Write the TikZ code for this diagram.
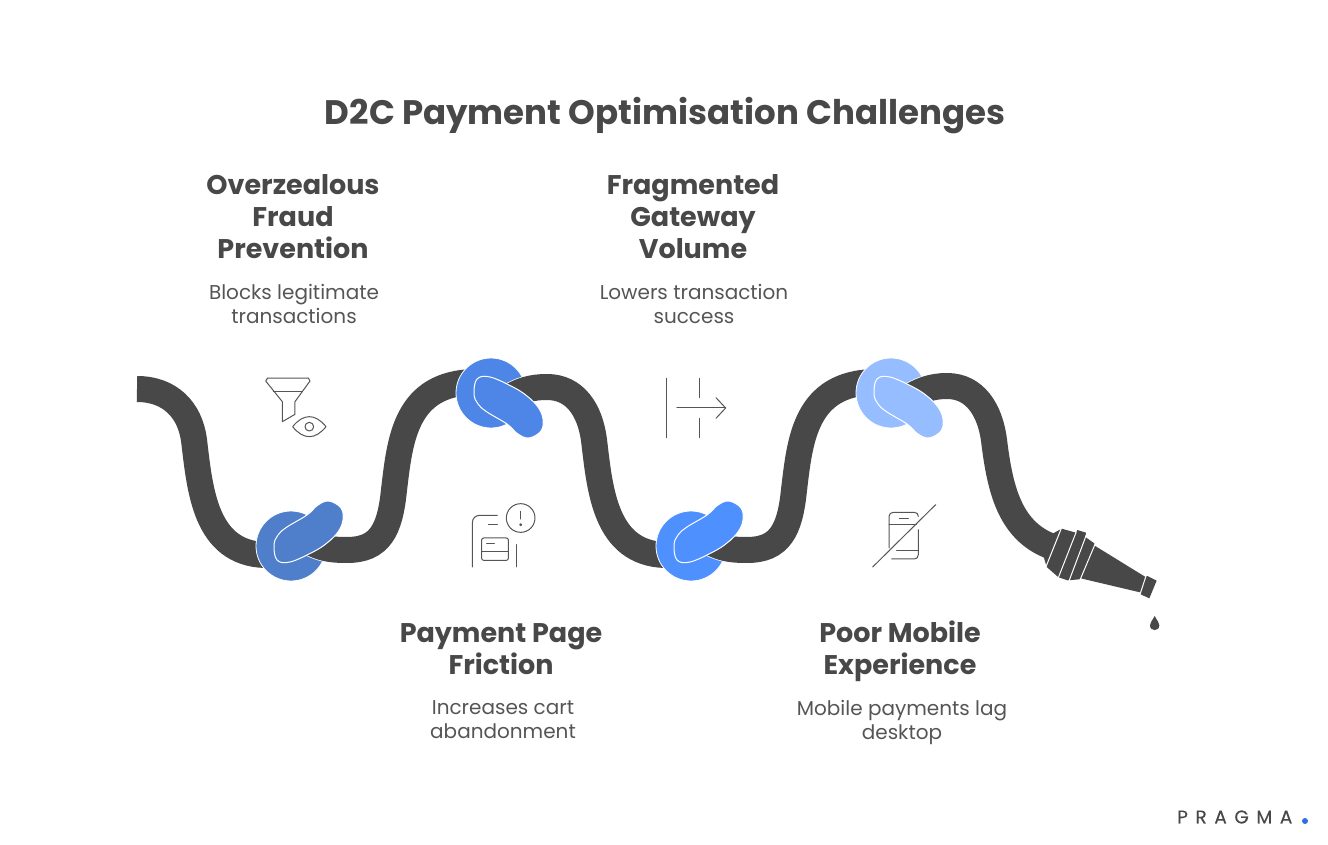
\documentclass[tikz,border=0pt]{standalone}
\usepackage{fontspec}
\setmainfont{Poppins}
\newfontfamily\logofont[LetterSpace=41, FakeBold=0.3]{Poppins}
\definecolor{tubegray}{HTML}{484848}
\definecolor{inkgray}{HTML}{484848}
\definecolor{bodygray}{HTML}{555555}
\definecolor{knotone}{HTML}{4F7FCB}
\definecolor{knottwo}{HTML}{4D86E6}
\definecolor{knotthree}{HTML}{4D90FE}
\definecolor{knotfour}{HTML}{96BDFF}
\definecolor{logoblue}{HTML}{2F6FE0}
% one knot: circle and blob, relative to the centre
\newcommand{\knotdisc}[2]{\fill[#2, draw=white, line width=.8pt] (#1) circle (35);}
\newcommand{\knotblob}[3]{
  \begin{scope}[shift={(#1)}, yscale=#3]
    \draw[#2, fill=#2, draw=white, line width=1pt] plot[smooth cycle, tension=.62] coordinates {
      (-17,-1) (-13,-11) (-4,-19) (16,-31) (27,-41) (38,-45) (50,-38) (52,-26) (47,-14) (36,-3) (22,6) (-1,16) (-14,14)};
  \end{scope}
}
\begin{document}
\begin{tikzpicture}[x=1pt, y=-1pt,
      tube/.style={draw=tubegray, line width=26pt},
      casing/.style={draw=white, line width=27.5pt},
      nozzle/.style={fill=tubegray},
      nozzlegap/.style={draw=white, line width=1pt},
      iconline/.style={draw=bodygray, line width=1pt, line cap=round, line join=round},
      zoomed/.style={x=.3333pt, y=-.3333pt},
      title/.style={font=\fontsize{34}{40}\selectfont\bfseries, text=inkgray},
      heading/.style={font=\fontsize{27}{32}\selectfont\bfseries, text=inkgray, align=center},
      body/.style={font=\fontsize{20}{24}\selectfont, text=bodygray, align=center}
    ]
      \useasboundingbox (0,0) rectangle (1328,845);

      % Title
      \node[title] (chart_title) at (665,116) {D2C Payment Optimisation Challenges};

      % Upper texts
      \node[heading] (fraud_head) at (293,217) {Overzealous\\Fraud\\Prevention};
      \node[body] (fraud_body) at (294,304) {Blocks legitimate\\transactions};
      \node[heading] (gateway_head) at (693,217) {Fragmented\\Gateway\\Volume};
      \node[body] (gateway_body) at (694,304) {Lowers transaction\\success};

      % Lower texts
      \node[heading] (page_head) at (501,649) {Payment Page\\Friction};
      \node[body] (page_body) at (503,720) {Increases cart\\abandonment};
      \node[heading] (mobile_head) at (900,651) {Poor Mobile\\Experience};
      \node[body] (mobile_body) at (902,722) {Mobile payments lag\\desktop};

      % Hose and discs, in turn, so each end leaves over its own disc
      \draw[tube] (137,389) .. controls (170,389) and (190,410) .. (194,440)
        .. controls (200,490) and (205,553) .. (265,555);
      \knotdisc{291,546}{knotone}
      \draw[casing] (305,539) .. controls (320,549) and (332,550) .. (347,550);
      \draw[tube] (305,539) .. controls (320,549) and (332,550) .. (347,550)
        .. controls (380,550) and (390,530) .. (394,490)
        .. controls (400,440) and (405,383) .. (475,382);
      \knotdisc{491,393}{knottwo}
      \draw[casing] (505,400) .. controls (520,390) and (532,387) .. (547,387);
      \draw[tube] (505,400) .. controls (520,390) and (532,387) .. (547,387)
        .. controls (575,387) and (590,410) .. (594,440)
        .. controls (600,490) and (605,553) .. (665,555);
      \knotdisc{691,546}{knotthree}
      \draw[casing] (705,539) .. controls (720,549) and (732,550) .. (747,550);
      \draw[tube] (705,539) .. controls (720,549) and (732,550) .. (747,550)
        .. controls (780,550) and (790,530) .. (794,490)
        .. controls (800,440) and (805,383) .. (875,382);
      \knotdisc{891,393}{knotfour}
      \draw[casing] (905,400) .. controls (920,390) and (932,386) .. (947,386);
      \draw[tube] (905,400) .. controls (920,390) and (932,386) .. (947,386)
        .. controls (975,386) and (990,410) .. (994,440)
        .. controls (1000,490) and (1010,530) .. (1050,546);

      % Blobs
      \knotblob{291,546}{knotone}{1}
      \knotblob{491,393}{knottwo}{-1}
      \knotblob{691,546}{knotthree}{1}
      \knotblob{891,393}{knotfour}{-1}

      % Nozzle
      \begin{scope}[shift={(1030,515)}, zoomed]
        \fill[nozzle] (66,57) -- (95,41) -- (138,53) -- (142,45) -- (168,53) -- (166,66)
          -- (193,85) -- (194,92) -- (345,185) -- (352,183) -- (380,197) -- (358,250)
          -- (332,238) -- (330,232) -- (152,190) -- (148,193) -- (113,196) -- (86,187)
          -- (82,184) -- (50,156) -- (40,122) -- cycle;
        \draw[nozzlegap] (94,40) -- (48,155);
        \draw[nozzlegap] (139,50) -- (85,188);
        \draw[nozzlegap] (169,60) -- (117,198);
        \draw[nozzlegap] (195,88) -- (150,195);
        \draw[nozzlegap] (349,180) -- (330,238);
        \fill[nozzle] (374,303) .. controls (366,318) and (360,323) .. (360,331)
          .. controls (360,350) and (388,350) .. (388,331)
          .. controls (388,323) and (382,318) .. (374,303) -- cycle;
      \end{scope}

      % Funnel and eye icon
      \begin{scope}[shift={(255,370)}, zoomed]
        \draw[iconline] (38,24) -- (160,24) -- (165,33) -- (120,95) -- (120,133) -- (82,155) -- (82,95) -- (32,33) -- cycle;
        \draw[iconline] (55,65) -- (142,65);
        \draw[iconline] (113,170) .. controls (145,130) and (181,130) .. (213,170)
          .. controls (181,210) and (145,210) .. (113,170) -- cycle;
        \draw[iconline] (163,170) circle (13);
      \end{scope}

      % Split arrow icon
      \begin{scope}[shift={(430,340)}, zoomed]
        \draw[iconline] (709,115) -- (709,293);
        \draw[iconline] (809,115) -- (809,173);
        \draw[iconline] (809,235) -- (809,293);
        \draw[iconline] (741,204) -- (887,204);
        \draw[iconline] (858,173) -- (887,204) -- (858,235);
      \end{scope}

      % Payment page icon
      \begin{scope}[shift={(465,498)}, zoomed]
        \draw[iconline] (22,207) -- (22,75) .. controls (22,60) and (32,52) .. (45,52) -- (97,52);
        \draw[iconline] (70,78) -- (97,78);
        \draw[iconline, rounded corners=2pt] (50,120) rectangle (130,187);
        \draw[iconline] (50,160) -- (130,160);
        \draw[iconline] (65,138) -- (88,138);
        \draw[iconline] (155,140) -- (155,207);
        \draw[iconline] (167,60) circle (43);
        \draw[iconline] (167,40) -- (167,63);
        \draw[iconline] (167,80) circle (3);
      \end{scope}

      % Crossed phone icon
      \begin{scope}[shift={(865,498)}, zoomed]
        \draw[iconline] (72,150) -- (72,55) .. controls (72,48) and (78,43) .. (85,43) -- (148,43) .. controls (155,43) and (160,48) .. (160,55);
        \draw[iconline] (160,95) -- (160,170) .. controls (160,178) and (155,183) .. (148,183) -- (80,183);
        \draw[iconline] (72,78) -- (154,78);
        \draw[iconline] (103,60) -- (130,60);
        \draw[iconline] (95,157) -- (160,157);
        \draw[iconline] (23,207) -- (212,20);
      \end{scope}

      % Logo
      \node[font=\fontsize{18.5}{20}\selectfont\logofont, text=inkgray, anchor=west, inner sep=0pt] (logo_text) at (1177,817) {PRAGMA};
      \node[circle, fill=logoblue, inner sep=0pt, minimum size=6pt] (logo_dot) at (1305,821) {};

    \end{tikzpicture}
\end{document}
